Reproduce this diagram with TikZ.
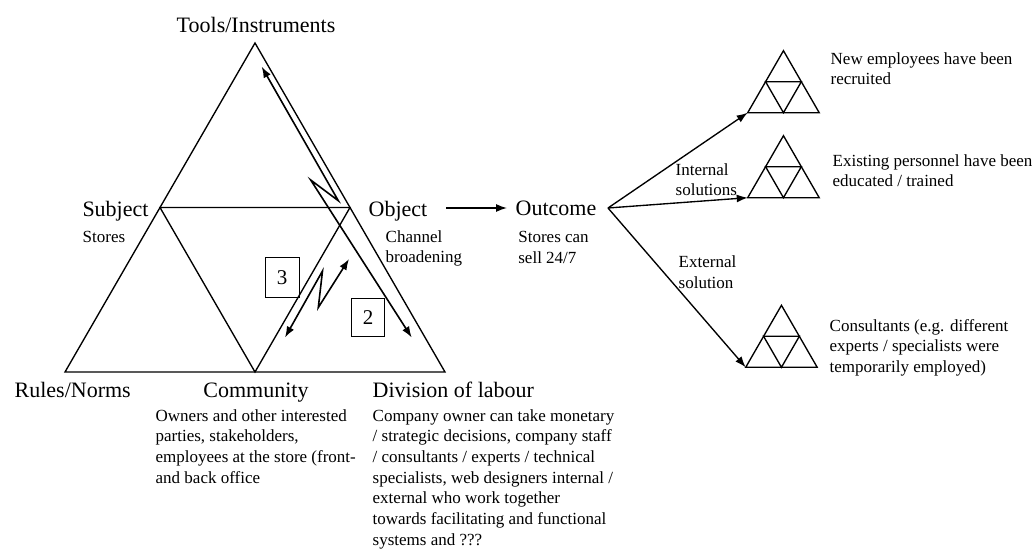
\documentclass[tikz,border=0pt]{standalone}
\usepackage{fontspec}
\setmainfont{Liberation Serif}
\usetikzlibrary{arrows.meta}
% several lines, left aligned, baseline on the first line
\newcommand{\txtlines}[1]{\begin{tabular}[t]{@{}l@{}}#1\end{tabular}}
\begin{document}
\begin{tikzpicture}[x=1pt,y=-1pt,
  line width=1.35pt, line join=miter,
  big/.style={font=\fontsize{22}{26}\selectfont, inner sep=0pt},
  small/.style={font=\fontsize{17}{20.7}\selectfont, inner sep=0pt, anchor=base west},
  tip/.style={-{Latex[length=11pt,width=8pt]}},
  twotips/.style={line width=1.6pt, {Latex[length=11pt,width=8pt]}-{Latex[length=11pt,width=8pt]}},
  numbox/.style={draw, line width=1.2pt, inner sep=0pt, font=\fontsize{21}{25}\selectfont},
  sierp/.pic={
    \coordinate (-bl) at (0,0);
    \coordinate (-br) at (71.5,0);
    \coordinate (-top) at (35.75,-62);
    \coordinate (-ml) at (17.875,-31);
    \coordinate (-mr) at (53.625,-31);
    \coordinate (-mb) at (35.75,0);
    \draw (-bl) -- (-br) -- (-top) -- cycle;
    \draw (-ml) -- (-mr) -- (-mb) -- cycle;
  }
]
\useasboundingbox (0,0) rectangle (1036,549);

% activity system triangle
\coordinate (A) at (255,43);
\coordinate (L) at (65,372);
\coordinate (R) at (445,372);
\coordinate (S) at (160,207.5);
\coordinate (O) at (350,207.5);
\coordinate (C) at (255,372);
\draw (A) -- (R) -- (L) -- cycle;
\draw (S) -- (O) -- (C) -- cycle;

% contradictions
\coordinate (z2a) at (261.7,66.7);
\coordinate (z2b) at (338.3,200.7);
\coordinate (z2c) at (310.7,180);
\coordinate (z2d) at (411.7,337.5);
\draw[twotips] (z2a) -- (z2b) -- (z2c) -- (z2d);
\coordinate (z3a) at (285,337.5);
\coordinate (z3b) at (322.5,271);
\coordinate (z3c) at (318.3,307.5);
\coordinate (z3d) at (349,259);
\draw[twotips] (z3a) -- (z3b) -- (z3c) -- (z3d);
\node[numbox, minimum width=34pt, minimum height=39.5pt] (b3) at (282.2,277.5) {3};
\node[numbox, minimum width=33pt, minimum height=38pt] (b2) at (368,317.2) {2};

% labels of the triangle
\node[big, anchor=base] (tools) at (256,32) {Tools/Instruments};
\node[big, anchor=base] (subj) at (115.5,216) {Subject};
\node[small] (stores) at (82,242) {Stores};
\node[big, anchor=base west] (obj) at (368,216) {Object};
\node[small] (chan) at (385,242) {\txtlines{Channel\\broadening}};
\node[big, anchor=base west] (rules) at (14,397) {Rules/Norms};
\node[big, anchor=base] (comm) at (256,397) {Community};
\node[big, anchor=base west] (div) at (372,397) {Division of labour};
\node[small] (commtxt) at (155,421) {\txtlines{Owners and other interested\\parties, stakeholders,\\employees at the store (front-\\and back office}};
\node[small] (divtxt) at (372,421) {\txtlines{Company owner can take monetary\\/ strategic decisions, company staff\\/ consultants / experts / technical\\specialists, web designers internal /\\external who work together\\towards facilitating and functional\\systems and ???}};

% outcome
\coordinate (oa) at (446,208);
\coordinate (ob) at (507,208);
\draw[tip] (oa) -- (ob);
\node[big, anchor=base west] (outc) at (515,215) {Outcome};
\node[small] (sell) at (517.7,242.5) {\txtlines{Stores can\\sell 24/7}};

% solutions
\pic (t1) at (747.7,112.7) {sierp};
\pic (t2) at (747.7,197.7) {sierp};
\pic (t3) at (745.7,367.3) {sierp};
\coordinate (fan) at (608,208);
\draw[tip] (fan) -- (t1-bl);
\draw[tip] (fan) -- (t2-bl);
\draw[tip] (fan) -- (t3-bl);
\node[small] (int) at (675,175) {\txtlines{Internal\\solutions}};
\node[small] (ext) at (678,267.5) {\txtlines{External\\solution}};
\node[small] (r1) at (830,64) {\txtlines{New employees have been\\recruited}};
\node[small] (r2) at (832,166) {\txtlines{Existing personnel have been\\educated / trained}};
\node[small] (r3) at (829,331) {\txtlines{Consultants (e.g. different\\experts / specialists were\\temporarily employed)}};
\end{tikzpicture}
\end{document}
